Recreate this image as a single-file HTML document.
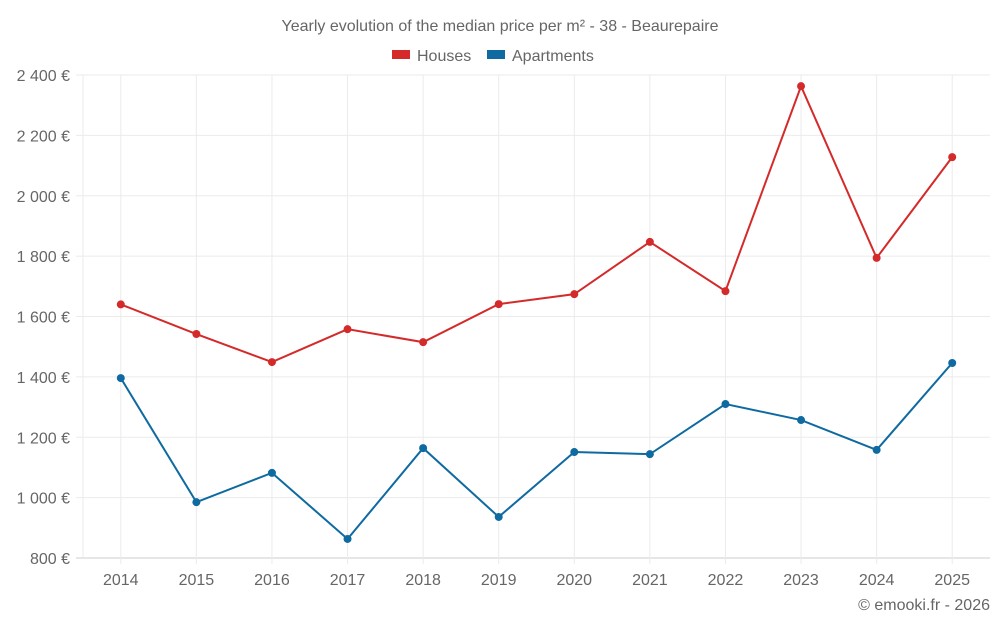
<!DOCTYPE html>
<html><head><meta charset="utf-8"><style>
body{margin:0;background:#fff;font-family:"Liberation Sans",sans-serif;}
svg text{font-family:"Liberation Sans",sans-serif;fill:#666;}
</style></head><body>
<svg id="chart" width="1000" height="625">
<text x="500" y="31" text-anchor="middle" font-size="16">Yearly evolution of the median price per m² - 38 - Beaurepaire</text>
<g>
<rect x="392" y="50" width="18" height="9" fill="#d42a2a"/>
<text x="417" y="61" font-size="16">Houses</text>
<rect x="487" y="50" width="18" height="9" fill="#0e6aa0"/>
<text x="512" y="61" font-size="16">Apartments</text>
</g>
<text x="990" y="610" text-anchor="end" font-size="16">© emooki.fr - 2026</text>
<g id="grid"></g><g id="axes"></g><g id="series"></g>
</svg>
<script>
const years=["2014","2015","2016","2017","2018","2019","2020","2021","2022","2023","2024","2025"];
const houses=[1640,1542,1449,1558,1515,1641,1674,1847,1684,2363,1794,2128];
const apartments=[1396,985,1082,863,1164,936,1151,1144,1310,1257,1158,1446];
const yTicks=[800,1000,1200,1400,1600,1800,2000,2200,2400];
const yTickLabels=["800 €","1 000 €","1 200 €","1 400 €","1 600 €","1 800 €","2 000 €","2 200 €","2 400 €"];
const NS="http://www.w3.org/2000/svg";
const L=83,R=990,T=75,B=558,yMin=800,yMax=2400;
const y=v=>B-(v-yMin)/(yMax-yMin)*(B-T);
const step=(R-L)/years.length;
const x=i=>L+step*(i+0.5);
function mk(tag,attrs,parent){const e=document.createElementNS(NS,tag);for(const k in attrs)e.setAttribute(k,attrs[k]);parent.appendChild(e);return e;}
const grid=document.getElementById('grid'),axes=document.getElementById('axes'),ser=document.getElementById('series');
yTicks.forEach((v,i)=>{
 const g=mk('line',{x1:76,x2:R,y1:y(v),y2:y(v),stroke:i==0?'#ccc':'#ebebeb','stroke-width':1},grid);
 
 
 const t=mk('text',{x:70,y:y(v)+6,'text-anchor':'end','font-size':16},axes);
 t.textContent=yTickLabels[i];
 
 
});
const ax=mk('line',{x1:L,x2:L,y1:T,y2:B,stroke:'#ebebeb'},grid);


years.forEach((yr,i)=>{
 const g=mk('line',{x1:x(i),x2:x(i),y1:T,y2:B+6,stroke:'#ebebeb'},grid);
 
 
 const t=mk('text',{x:x(i),y:585,'text-anchor':'middle','font-size':16},axes);
 t.textContent=yr;
 
 
});
function draw(vals,color,name){
 const p=mk('polyline',{points:vals.map((v,i)=>x(i)+','+y(v)).join(' '),fill:'none',stroke:color,'stroke-width':2},ser);
 
 
 vals.forEach((v,i)=>{
  const c=mk('circle',{cx:x(i),cy:y(v),r:4,fill:color},ser);
  
  
 });
}
draw(houses,'#d42a2a','houses');
draw(apartments,'#0e6aa0','apartments');
</script>
</body></html>
